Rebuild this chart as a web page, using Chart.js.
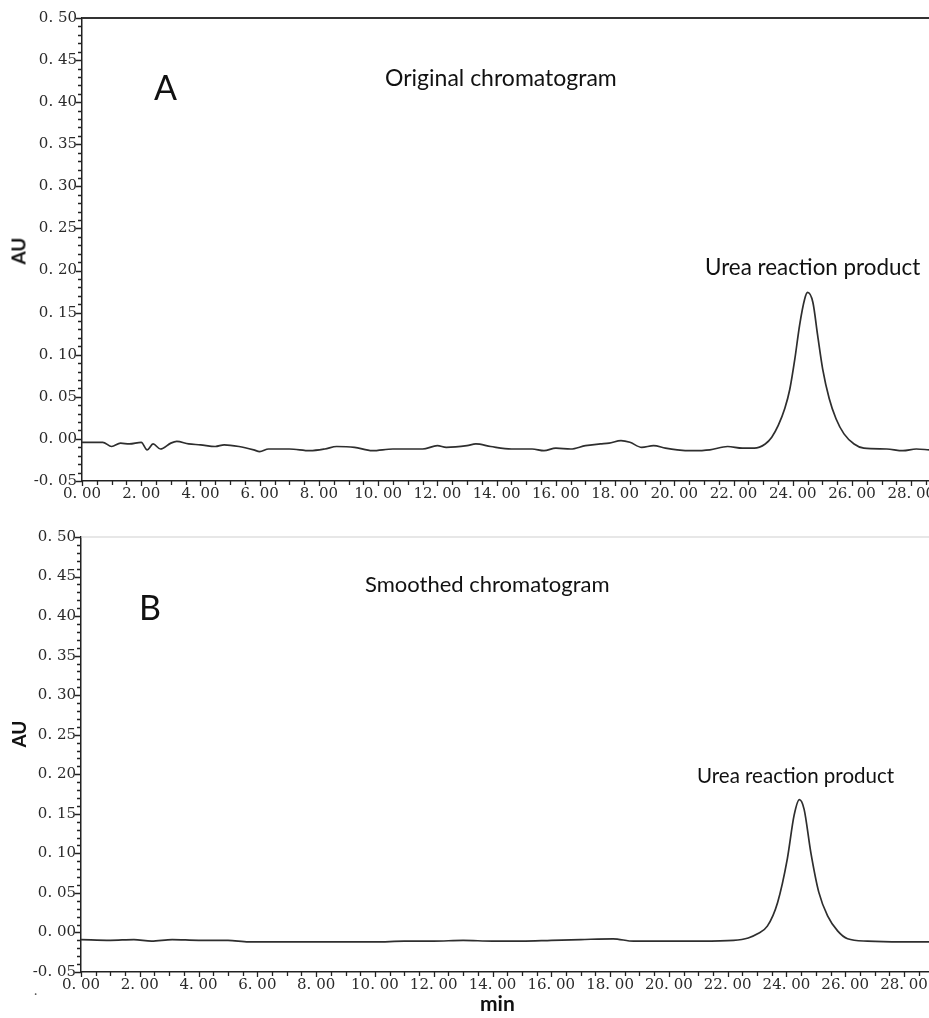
<!DOCTYPE html>
<html><head><meta charset="utf-8">
<script src="https://cdn.jsdelivr.net/npm/chart.js@4/dist/chart.umd.min.js"></script>
<style>
html,body{margin:0;padding:0;background:#fff;width:929px;height:1018px;overflow:hidden;position:relative}
canvas{position:absolute;left:0}
.t{position:absolute;white-space:nowrap;font-family:Lato,'Open Sans',sans-serif;color:#111;line-height:1}
.r{position:absolute;white-space:nowrap;font-family:Lato,'Open Sans',sans-serif;color:#111;line-height:1;transform:translate(-50%,-50%) rotate(-90deg)}
</style></head><body>
<canvas id="cA" width="929" height="515" style="top:0"></canvas>
<canvas id="cB" width="929" height="498" style="top:520px"></canvas>
<div class="t" style="left:154px;top:70px;font-size:34px">A</div>
<div class="t" style="left:385px;top:66px;font-size:23px">Original chromatogram</div>
<div class="t" style="left:705px;top:256px;font-size:22.4px">Urea reaction product</div>
<div class="r" style="left:18px;top:251px;font-size:19px;font-weight:bold">AU</div>
<div class="t" style="left:139px;top:590px;font-size:34px">B</div>
<div class="t" style="left:365px;top:573px;font-size:22px">Smoothed chromatogram</div>
<div class="t" style="left:697px;top:765px;font-size:20.5px">Urea reaction product</div>
<div class="r" style="left:18px;top:734px;font-size:19px;font-weight:bold">AU</div>
<div class="t" style="left:480px;top:992px;font-size:21px;font-weight:bold">min</div>
<div class="t" style="left:34px;top:983px;font-size:14px;color:#555">.</div>
<script>
// ---- data ----
const xTickValues = [0, 2, 4, 6, 8, 10, 12, 14, 16, 18, 20, 22, 24, 26, 28];
const yTickValues = [-0.05, 0, 0.05, 0.10, 0.15, 0.20, 0.25, 0.30, 0.35, 0.40, 0.45, 0.50];

// A: original chromatogram (min, AU)
const timeA = [0.0, 0.4, 0.7, 1.0, 1.3, 1.6, 2.0, 2.2, 2.4, 2.65, 3.0, 3.2, 3.6, 4.0, 4.5, 4.8, 5.3, 5.8, 6.0, 6.3,
  7.0, 7.7, 8.2, 8.6, 9.2, 9.8, 10.5, 11.0, 11.5, 12.0, 12.3, 13.0, 13.3, 13.8, 14.5, 15.2, 15.6, 16.0, 16.5, 17.0,
  17.5, 17.8, 18.2, 18.5, 18.9, 19.3, 19.7, 20.1, 20.6, 21.2, 21.8, 22.3, 22.7, 23.07, 23.29, 23.51, 23.73, 23.9,
  24.07, 24.23, 24.4, 24.5, 24.68, 24.84, 25.01, 25.23, 25.46, 25.73, 26.07, 26.4, 27.17, 27.72, 28.17, 28.6];
const auA = [-0.004, -0.004, -0.004, -0.009, -0.005, -0.006, -0.004, -0.013, -0.006, -0.012, -0.005, -0.003, -0.006, -0.007, -0.009, -0.007, -0.009, -0.013, -0.015, -0.012,
  -0.012, -0.014, -0.012, -0.009, -0.010, -0.014, -0.012, -0.012, -0.012, -0.008, -0.010, -0.008, -0.006, -0.009, -0.012, -0.012, -0.014, -0.011, -0.012, -0.008,
  -0.006, -0.005, -0.002, -0.004, -0.010, -0.008, -0.011, -0.013, -0.014, -0.013, -0.009, -0.011, -0.011, -0.006, 0.002, 0.016, 0.036, 0.059,
  0.095, 0.135, 0.166, 0.174, 0.162, 0.123, 0.083, 0.048, 0.024, 0.006, -0.006, -0.011, -0.012, -0.014, -0.012, -0.013];

// B: smoothed chromatogram (min, AU)
const timeB = [0, 1, 1.8, 2.4, 3.1, 4, 5, 5.7, 6.5, 7, 8, 9, 10, 11, 12, 13, 14, 15, 16, 17, 18.1, 18.8, 20, 21.1, 22.2,
  22.7, 23.0, 23.35, 23.7, 24.03, 24.26, 24.44, 24.6, 24.83, 25.1, 25.4, 25.74, 26.08, 26.76, 27.9, 28.85];
const auB = [-0.009, -0.010, -0.009, -0.011, -0.009, -0.010, -0.010, -0.012, -0.012, -0.012, -0.012, -0.012, -0.012, -0.011, -0.011, -0.010, -0.011, -0.011, -0.010, -0.009, -0.008, -0.011, -0.011, -0.011, -0.010,
  -0.007, -0.002, 0.008, 0.038, 0.093, 0.148, 0.168, 0.156, 0.101, 0.051, 0.021, 0.002, -0.008, -0.011, -0.012, -0.012];

const fmt = v => (v < 0 ? '-' : '') + Math.abs(v).toFixed(2).replace('.', '. ');

const axisDecor = {
  id: 'axisDecor',
  afterDraw(chart, args, opts) {
    const {ctx, chartArea: ca, scales: {x, y}} = chart;
    ctx.save();
    ctx.strokeStyle = '#222'; ctx.lineWidth = 1.3;
    ctx.beginPath();
    for (let i = 0; i * 0.5 <= x.max + 1e-9; i++) {
      const px = Math.round(x.getPixelForValue(i * 0.5)) + 0.5;
      const major = i % 4 === 0;
      ctx.moveTo(px, ca.bottom); ctx.lineTo(px, ca.bottom + (major ? 5 : 4));
    }
    for (let i = 0; i <= 55; i++) {
      const py = Math.round(y.getPixelForValue(-0.05 + i * 0.01)) + 0.5;
      const major = i % 5 === 0;
      ctx.moveTo(ca.left, py); ctx.lineTo(ca.left - (major ? 6 : 4), py);
    }
    ctx.stroke();
    ctx.strokeStyle = opts.topColor; ctx.lineWidth = opts.topWidth;
    ctx.beginPath(); ctx.moveTo(ca.left, ca.top); ctx.lineTo(ca.right, ca.top); ctx.stroke();
    ctx.restore();
  }
};

function makeChart(id, times, values, cfg) {
  const tickFont = {family: "'DejaVu Serif', 'Liberation Serif', serif", size: 15};
  return new Chart(document.getElementById(id), {
    type: 'line',
    data: {datasets: [{data: times.map((t, i) => ({x: t, y: values[i]})), borderColor: '#2e2e2e', borderWidth: 1.7,
      pointRadius: 0, cubicInterpolationMode: 'monotone', fill: false}]},
    options: {
      responsive: false, animation: false, devicePixelRatio: 1,
      layout: {padding: {top: cfg.padTop, left: 0, right: 0, bottom: 0}},
      plugins: {legend: {display: false}, tooltip: {enabled: false}, axisDecor: {topColor: cfg.topColor, topWidth: cfg.topWidth}},
      scales: {
        x: {type: 'linear', min: 0, max: cfg.xMax,
          grid: {display: false, drawTicks: false}, border: {display: true, color: '#222', width: 1.5},
          afterBuildTicks: s => { s.ticks = xTickValues.map(v => ({value: v})); },
          ticks: {autoSkip: false, maxRotation: 0, minRotation: 0, padding: 4, color: '#2a2a2a', font: tickFont, callback: v => fmt(v)},
          afterFit: s => { s.height = cfg.xH; s.paddingLeft = 0; s.paddingRight = 0; }},
        y: {type: 'linear', min: -0.05, max: 0.5,
          grid: {display: false, drawTicks: false}, border: {display: true, color: '#222', width: 1.5},
          afterBuildTicks: s => { s.ticks = yTickValues.map(v => ({value: v})); },
          ticks: {autoSkip: false, padding: 5, color: '#2a2a2a', font: tickFont, callback: v => fmt(v)},
          afterFit: s => { s.width = cfg.yW; s.paddingTop = 0; s.paddingBottom = 0; }}
      }
    },
    plugins: [axisDecor]
  });
}

makeChart('cA', timeA, auA, {padTop: 18, xH: 34, yW: 82, xMax: 28.6, topColor: '#333', topWidth: 2});
makeChart('cB', timeB, auB, {padTop: 17, xH: 46, yW: 81, xMax: 28.85, topColor: '#cfcfcf', topWidth: 1});
</script>
</body></html>
